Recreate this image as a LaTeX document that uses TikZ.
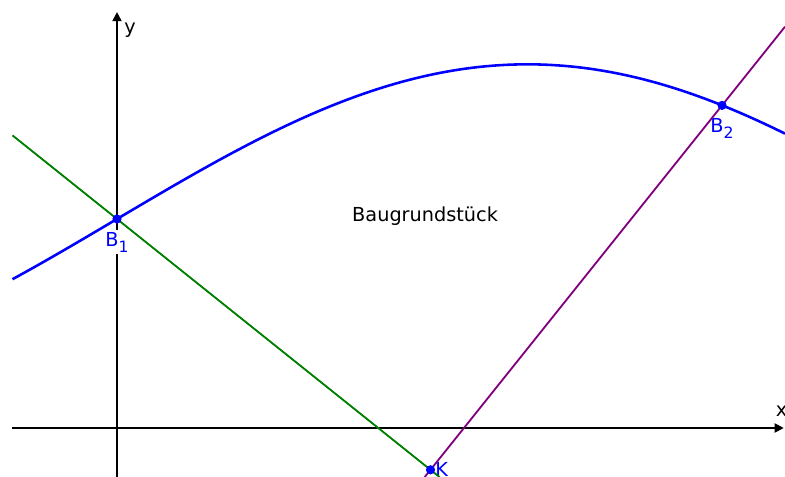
\documentclass[tikz,border=0pt]{standalone}
\usepackage{fontspec}
\setmainfont{DejaVu Sans}
\usetikzlibrary{positioning,arrows.meta}
\definecolor{plotblue}{RGB}{0,0,255}
\definecolor{plotgreen}{RGB}{0,128,0}
\definecolor{plotpurple}{RGB}{128,0,128}
\newcommand{\ptsub}[1]{\raisebox{-0.55ex}{\fontsize{8.5}{10}\selectfont #1}}

\begin{document}
\begin{tikzpicture}[x=0.4cm,y=0.4cm,font=\fontsize{10.5}{12}\selectfont,
    axisline/.style={line width=1pt,-{Triangle[length=5pt,width=5pt]}},
    ptlabel/.style={plotblue,fill=white,inner sep=1pt}]
    \useasboundingbox (-5.598,-2.344) rectangle (31.96,20.478);
    \clip (-5.598,-2.344) rectangle (31.96,20.478);
    % Punkte
    \coordinate (B1) at (0,10);
    \coordinate (K) at (15,-2);
    \coordinate (B2) at (28.948,15.435);
    % Achsen
    \draw[axisline] (-5,0) -- (31.9,0);
    \draw[axisline] (0,-2.344) -- (0,19.9);
    \node (xlab) at (31.8,0.8) {x};
    \node (ylab) at (0.62,19.04) {y};
    % Beschriftungen
    \node[ptlabel,below=6pt of B1] (B1lab) {B\ptsub{1}};
    \node[ptlabel,below=6pt of B2] (B2lab) {B\ptsub{2}};
    \node[ptlabel,right=1.5pt of K] (Klab) {K};
    \node (grund) at (14.74,10.14) {Baugrundstück};
    % Geraden
    \draw[plotgreen,line width=1pt] (-5,14) -- (B1) -- (K) -- (15.43,-2.344);
    \draw[plotpurple,line width=1pt] (14.725,-2.344) -- (K) -- (B2)
        -- (31.96,19.2);
    % Randkurve
    \draw[plotblue,line width=1.4pt,domain=-5:31.96,samples=120]
        plot (\x,{10+7.4*sin(0.08*\x r)});
    \foreach \p in {B1,B2,K}{
        \fill[plotblue] (\p) circle (2.5pt);
    }
\end{tikzpicture}
\end{document}
